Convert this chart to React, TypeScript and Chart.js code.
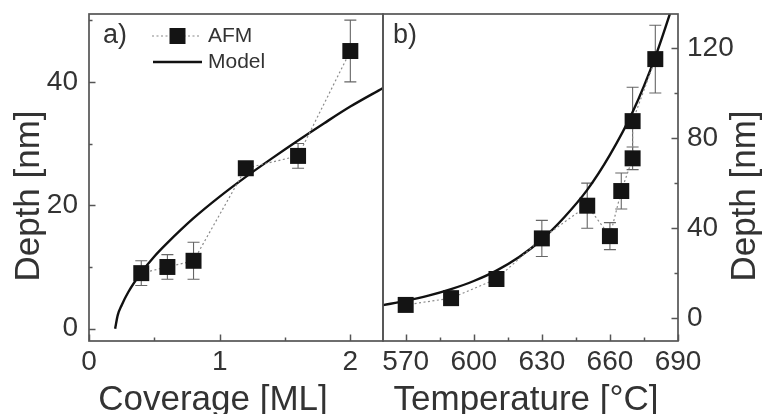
import React, { useEffect, useRef } from "react";
import { Chart, registerables } from "chart.js";
Chart.register(...registerables);

// ---------- data (panel a) ----------
const coverage = [0.4, 0.6, 0.8, 1.2, 1.6, 2.0];
const depthA = [9, 10, 11, 26, 28, 45];
const errA = [2, 2, 3, 1, 2, 5];
const modelCoverage = [0.2, 0.22, 0.25, 0.3, 0.4, 0.5, 0.6, 0.8, 1.0, 1.2, 1.4, 1.6, 1.8, 2.0, 2.25];
const modelDepthA = [0, 2.2, 3.8, 5.9, 9.1, 11.7, 13.9, 17.9, 21.4, 24.6, 27.6, 30.5, 33.3, 36.0, 39.0];
const xLabelsA = [0, 1, 2];
const yLabelsA = [0, 20, 40];

// ---------- data (panel b) ----------
const temperature = [570, 590, 610, 630, 650, 660, 665, 670, 670, 680];
const depthB = [6, 9, 17.5, 35.5, 50, 36.5, 56.5, 71, 87.5, 115];
const errB = [2, 2, 2, 8, 10, 6, 8, 5, 15, 15];
const modelTemperature = [560, 570, 580, 590, 600, 610, 620, 630, 640, 650, 660, 670, 680, 690];
const modelDepthB = [5.9, 7.8, 10.1, 13.0, 16.6, 21.2, 27.2, 35.0, 45.0, 57.0, 72.5, 91.5, 116, 146];
const xLabelsB = [570, 600, 630, 660, 690];
const yLabelsB = [0, 40, 80, 120];

const FONT = "'Liberation Sans', Arial, Helvetica, sans-serif";
const TEXT = "#333333";
const AXIS = "#555555";
const W = 762;
const H = 414;

const zip = (xs: number[], ys: number[]) => xs.map((x, i) => ({ x, y: ys[i] }));

const frameTicks = {
  id: "frameTicks",
  afterDraw(chart: any, _a: any, opts: any) {
    const { ctx, chartArea: ca } = chart;
    ctx.save();
    ctx.strokeStyle = AXIS;
    ctx.lineWidth = 1.5;
    ["x", "y"].forEach((id) => {
      const s = chart.scales[id];
      const majors: number[] = opts.major[id];
      s.ticks.forEach((t: any) => {
        const major = majors.includes(t.value);
        const len = major ? 6.5 : 3.5;
        const p = Math.round(s.getPixelForValue(t.value)) + 0.5;
        ctx.beginPath();
        if (id === "x") {
          ctx.moveTo(p, ca.bottom);
          ctx.lineTo(p, ca.bottom - len);
        } else if (s.position === "left") {
          ctx.moveTo(ca.left, p);
          ctx.lineTo(ca.left + len, p);
        } else {
          ctx.moveTo(ca.right, p);
          ctx.lineTo(ca.right - len, p);
        }
        ctx.stroke();
      });
    });
    ctx.lineWidth = 1.7;
    ctx.strokeRect(ca.left, ca.top, ca.width, ca.height);
    ctx.restore();
  },
};

const errorBars = {
  id: "errorBars",
  beforeDatasetsDraw(chart: any, _a: any, opts: any) {
    const { ctx } = chart;
    const sx = chart.scales.x;
    const sy = chart.scales.y;
    const xs: number[] = opts.xs;
    const ys: number[] = opts.ys;
    const es: number[] = opts.es;
    ctx.save();
    ctx.strokeStyle = "#666666";
    ctx.lineWidth = 1.1;
    xs.forEach((xv, i) => {
      const x = sx.getPixelForValue(xv);
      const y1 = sy.getPixelForValue(ys[i] + es[i]);
      const y2 = sy.getPixelForValue(ys[i] - es[i]);
      ctx.beginPath();
      ctx.moveTo(x, y1);
      ctx.lineTo(x, y2);
      ctx.moveTo(x - 6, y1);
      ctx.lineTo(x + 6, y1);
      ctx.moveTo(x - 6, y2);
      ctx.lineTo(x + 6, y2);
      ctx.stroke();
    });
    ctx.restore();
  },
};

const texts = {
  id: "texts",
  afterDraw(chart: any, _a: any, opts: any) {
    const { ctx } = chart;
    ctx.save();
    ctx.fillStyle = TEXT;
    ctx.textBaseline = "alphabetic";
    ctx.textAlign = "center";
    ctx.font = `35px ${FONT}`;
    ctx.fillText(opts.xTitle, opts.xTitleX, 410);
    ctx.save();
    ctx.translate(opts.yTitleX, 196);
    ctx.rotate(-Math.PI / 2);
    ctx.textBaseline = "middle";
    ctx.fillText(opts.yTitle, 0, 0);
    ctx.restore();
    ctx.textAlign = "left";
    ctx.textBaseline = "middle";
    ctx.font = `27px ${FONT}`;
    ctx.fillText(opts.panel, opts.panelX, 36);
    if (opts.legend) {
      // AFM entry
      ctx.strokeStyle = "#888888";
      ctx.lineWidth = 1.2;
      ctx.setLineDash([2, 2.5]);
      ctx.beginPath();
      ctx.moveTo(152, 36);
      ctx.lineTo(201, 36);
      ctx.stroke();
      ctx.setLineDash([]);
      ctx.fillStyle = "#141414";
      ctx.fillRect(169.5, 28, 16, 16);
      // Model entry
      ctx.strokeStyle = "#111111";
      ctx.lineWidth = 2.4;
      ctx.beginPath();
      ctx.moveTo(153, 62);
      ctx.lineTo(202, 62);
      ctx.stroke();
      ctx.fillStyle = TEXT;
      ctx.font = `21px ${FONT}`;
      ctx.fillText("AFM", 208, 36);
      ctx.fillText("Model", 208, 62);
    }
    ctx.restore();
  },
};

function tickFont() {
  return { family: FONT, size: 28 };
}

function fitFixed(size: number, horizontal: boolean) {
  return (s: any) => {
    if (horizontal) s.height = size;
    else s.width = size;
    s.paddingLeft = 0;
    s.paddingRight = 0;
    s.paddingTop = 0;
    s.paddingBottom = 0;
  };
}

function makeConfig(p: any) {
  return {
    type: "line" as const,
    data: {
      datasets: [
        {
          label: "AFM",
          data: zip(p.xs, p.ys),
          borderColor: "#8a8a8a",
          borderWidth: 1.2,
          borderDash: [2, 2.5],
          pointStyle: "rect",
          pointRadius: 11.3,
          pointBackgroundColor: "#141414",
          pointBorderColor: "#141414",
          pointBorderWidth: 0,
          tension: 0,
        },
        {
          label: "Model",
          data: zip(p.mx, p.my),
          borderColor: "#111111",
          borderWidth: 2.4,
          pointRadius: 0,
          cubicInterpolationMode: "monotone",
          tension: 0.4,
        },
      ],
    },
    options: {
      responsive: false,
      animation: false,
      events: [],
      layout: { padding: p.padding },
      plugins: {
        legend: { display: false },
        tooltip: { enabled: false },
        frameTicks: { major: { x: p.xLabels, y: p.yLabels } },
        errorBars: { xs: p.xs, ys: p.ys, es: p.es },
        texts: p.texts,
      },
      scales: {
        x: {
          type: "linear",
          position: "bottom",
          min: p.xMin,
          max: p.xMax,
          grid: { display: false, drawTicks: false },
          border: { display: false },
          ticks: {
            stepSize: p.xStep,
            includeBounds: false,
            autoSkip: false,
            maxRotation: 0,
            minRotation: 0,
            padding: 4,
            color: TEXT,
            font: tickFont(),
            callback: (v: number) => (p.xLabels.includes(v) ? String(v) : ""),
          },
          afterFit: fitFixed(73, true),
        },
        y: {
          type: "linear",
          position: p.yPos,
          min: p.yMin,
          max: p.yMax,
          grid: { display: false, drawTicks: false },
          border: { display: false },
          ticks: {
            stepSize: p.yStep,
            includeBounds: false,
            autoSkip: false,
            padding: p.yPad,
            color: TEXT,
            font: tickFont(),
            callback: (v: number) => (p.yLabels.includes(v) ? String(v) : ""),
          },
          afterFit: fitFixed(p.yWidth, false),
        },
      },
    },
    plugins: [errorBars, frameTicks, texts],
  };
}

export default function App() {
  const refA = useRef<HTMLCanvasElement>(null);
  const refB = useRef<HTMLCanvasElement>(null);
  useEffect(() => {
    document.body.style.margin = "0";
    const a = new Chart(
      refA.current as HTMLCanvasElement,
      makeConfig({
        xs: coverage,
        ys: depthA,
        es: errA,
        mx: modelCoverage,
        my: modelDepthA,
        xLabels: xLabelsA,
        yLabels: yLabelsA,
        xMin: 0,
        xMax: 2.25,
        xStep: 0.5,
        yMin: -2,
        yMax: 51,
        yStep: 10,
        yPos: "left",
        yPad: 11,
        yWidth: 89,
        padding: { left: 0, top: 14, right: W - 383, bottom: 0 },
        texts: { xTitle: "Coverage [ML]", xTitleX: 213, yTitle: "Depth [nm]", yTitleX: 29, panel: "a)", panelX: 103, legend: true },
      }) as any
    );
    const b = new Chart(
      refB.current as HTMLCanvasElement,
      makeConfig({
        xs: temperature,
        ys: depthB,
        es: errB,
        mx: modelTemperature,
        my: modelDepthB,
        xLabels: xLabelsB,
        yLabels: yLabelsB,
        xMin: 560,
        xMax: 690,
        xStep: 15,
        yMin: -10,
        yMax: 135,
        yStep: 20,
        yPos: "right",
        yPad: 9,
        yWidth: W - 678,
        padding: { left: 383, top: 14, right: 0, bottom: 0 },
        texts: { xTitle: "Temperature [°C]", xTitleX: 526, yTitle: "Depth [nm]", yTitleX: 745, panel: "b)", panelX: 393, legend: false },
      }) as any
    );
    return () => {
      a.destroy();
      b.destroy();
    };
  }, []);
  const cs: React.CSSProperties = { position: "absolute", left: 0, top: 0, width: W, height: H };
  return (
    <div style={{ position: "fixed", left: 0, top: 0, width: W, height: H, background: "#ffffff" }}>
      <canvas ref={refA} width={W} height={H} style={cs} />
      <canvas ref={refB} width={W} height={H} style={cs} />
    </div>
  );
}
